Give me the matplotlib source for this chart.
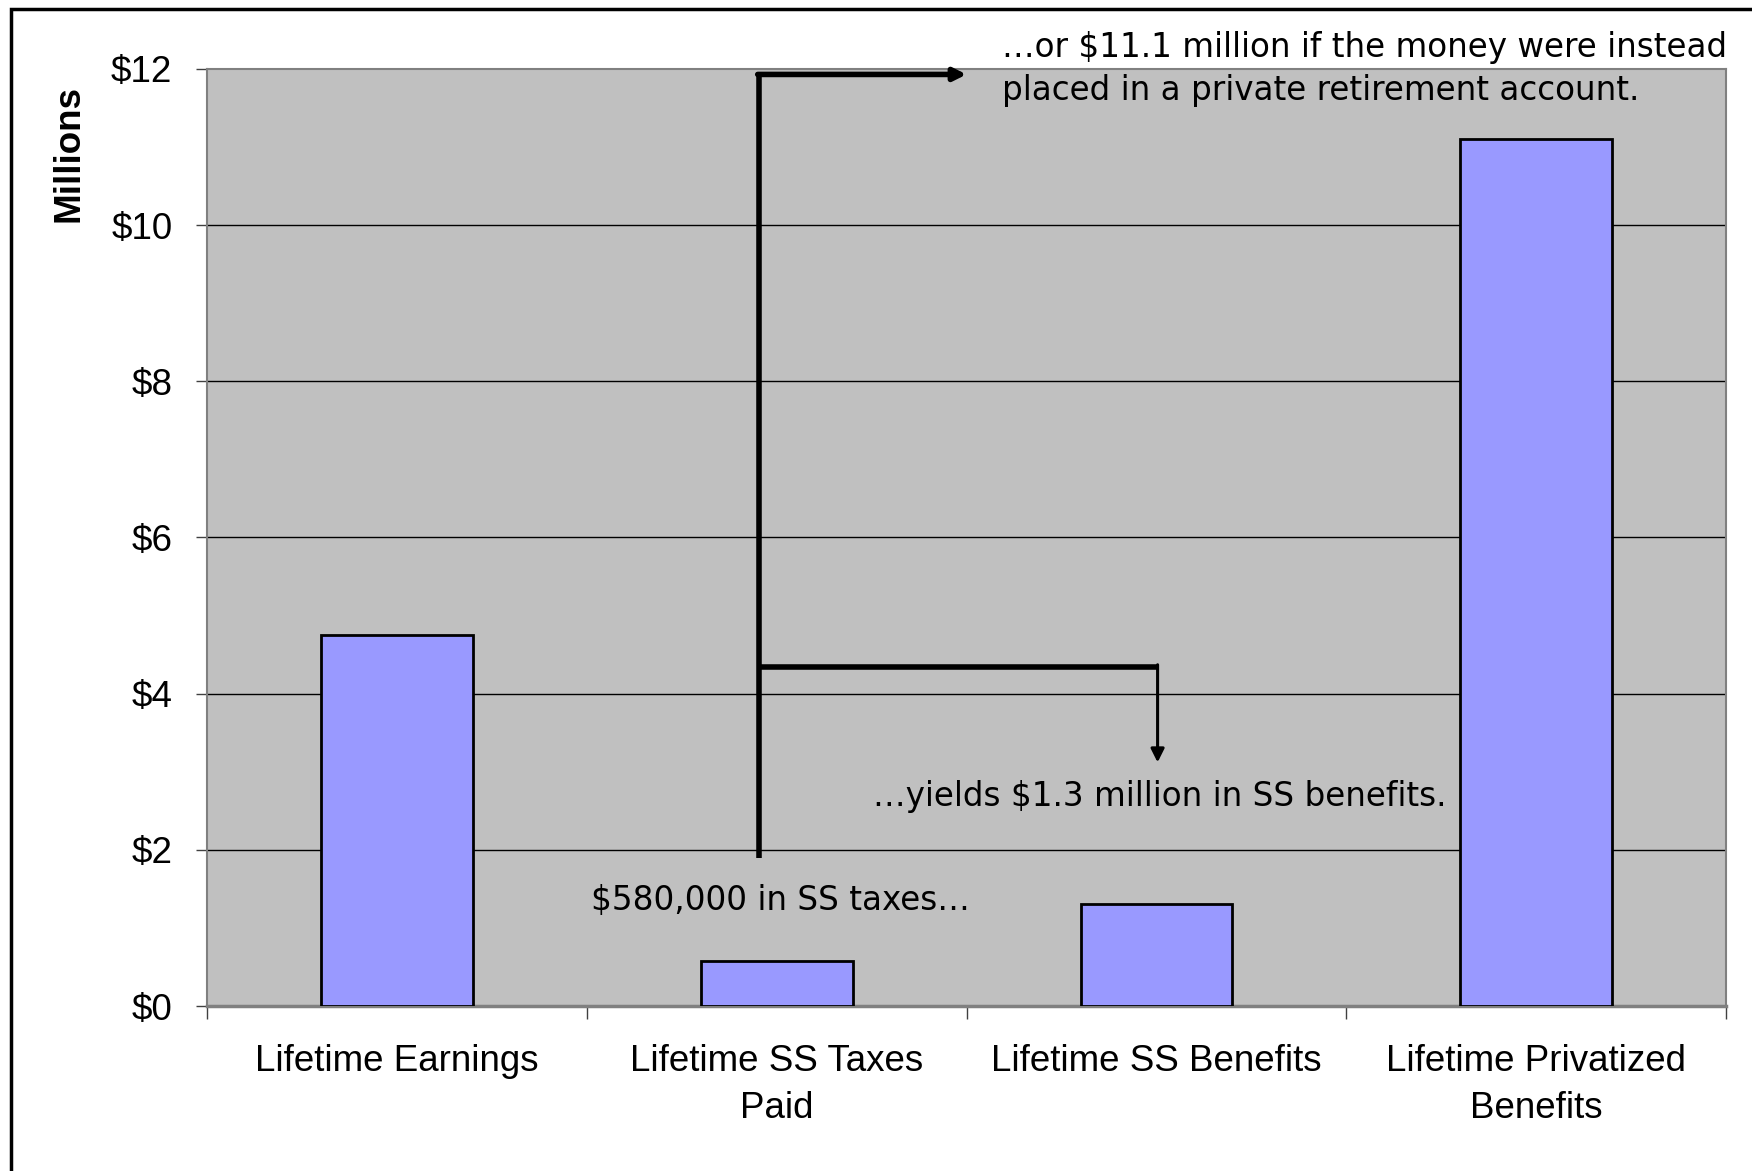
import matplotlib
matplotlib.use("Agg")
import matplotlib.pyplot as plt
from matplotlib.patches import Rectangle

# lifetime totals, millions of dollars
categories = ["Lifetime Earnings", "Lifetime SS Taxes\nPaid",
              "Lifetime SS Benefits", "Lifetime Privatized\nBenefits"]
values = [4.75, 0.58, 1.3, 11.1]
y_ticks = [0, 2, 4, 6, 8, 10, 12]
y_labels = ["$0", "$2", "$4", "$6", "$8", "$10", "$12"]

plt.rcParams["font.family"] = ["Liberation Sans", "DejaVu Sans"]

fig = plt.figure(figsize=(17.52, 11.71), dpi=100)
ax = fig.add_axes([0.1182, 0.1409, 0.867, 0.8002])

x = list(range(len(categories)))
ax.bar(x, values, width=0.4, color="#9999FF", edgecolor="black", linewidth=2, zorder=3)

ax.set_facecolor("#C0C0C0")
ax.set_xlim(-0.5, 3.5)
ax.set_ylim(0, 12)

ax.set_yticks(y_ticks)
ax.set_yticklabels(y_labels, fontsize=26.5)
ax.tick_params(axis="y", length=8, width=1, color="#404040", pad=17)
for yv in y_ticks[1:-1]:
    ax.axhline(yv, color="black", linewidth=1, zorder=1)

ax.set_xticks(x)
ax.set_xticklabels(categories, fontsize=26.5, linespacing=1.45)
ax.tick_params(axis="x", which="major", length=0, pad=27)
ax.set_xticks([-0.5, 0.5, 1.5, 2.5, 3.5], minor=True)
ax.tick_params(axis="x", which="minor", length=9, width=1, color="#404040")

for side in ["top", "right", "left"]:
    ax.spines[side].set_color("#808080")
    ax.spines[side].set_linewidth(1.5)
ax.spines["bottom"].set_color("#808080")
ax.spines["bottom"].set_linewidth(2.5)

fig.text(69 / 1752, 1 - 154 / 1171, "Millions", rotation=90, fontsize=26.5,
         fontweight="bold", ha="center", va="center")

# connector lines from the taxes paid to the two outcomes
lw = 4
ax.plot([0.953, 0.953], [1.9, 11.93], color="black", lw=lw, zorder=4,
        solid_capstyle="butt")
ax.annotate("", xy=(1.50, 11.93), xytext=(0.95, 11.93),
            arrowprops=dict(arrowstyle="-|>", color="black", lw=lw,
                            mutation_scale=18, shrinkA=0, shrinkB=0), zorder=4)
ax.plot([0.953, 2.003], [4.34, 4.34], color="black", lw=lw, zorder=4,
        solid_capstyle="butt")
ax.annotate("", xy=(2.003, 3.12), xytext=(2.003, 4.37),
            arrowprops=dict(arrowstyle="-|>", color="black", lw=2.2,
                            mutation_scale=20, shrinkA=0, shrinkB=0), zorder=4)

note_font = dict(family=["DejaVu Sans"], fontsize=23.5, color="black", zorder=5)
ax.text(1.594, 12.28, "…or $11.1 million if the money were instead",
        ha="left", va="center", clip_on=False, **note_font)
ax.text(1.594, 11.73, "placed in a private retirement account.",
        ha="left", va="center", clip_on=False, **note_font)
ax.text(2.008, 2.677, "…yields $1.3 million in SS benefits.",
        ha="center", va="center", **note_font)
ax.text(1.010, 1.345, "$580,000 in SS taxes…",
        ha="center", va="center", **note_font)

# outer frame of the figure
fig.add_artist(Rectangle((11 / 1752, -0.1), 1.2, 1.1 - 9 / 1171,
                         transform=fig.transFigure, fill=False,
                         edgecolor="black", linewidth=2.5))

fig.savefig("out.png", dpi=100)
